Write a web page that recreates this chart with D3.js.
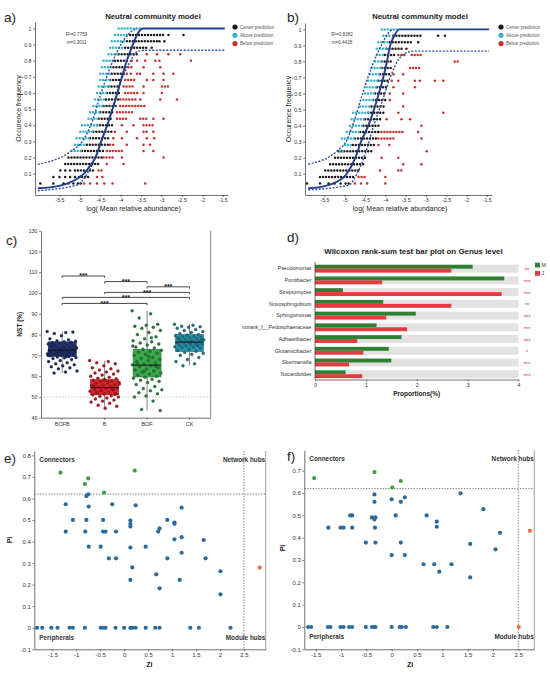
<!DOCTYPE html>
<html>
<head>
<meta charset="utf-8">
<script src="https://cdn.jsdelivr.net/npm/d3@7"></script>
<style>
  body { margin: 0; background: #fff; }
  svg { display: block; font-family: "Liberation Sans", Arial, sans-serif; }
</style>
</head>
<body>
<svg id="chart"></svg>
<script>
// === DATA: neutral community model (a, b) ===
// rows of dots: [occurrence frequency, log abundance from, log abundance to]

const A_ABOVE = [
    [1.00, -4.05, -3.52], [0.96, -4.14, -3.81], [0.92, -4.22, -3.89], [0.88, -4.26, -3.93],
    [0.84, -4.30, -4.05], [0.80, -4.42, -4.14], [0.76, -4.46, -4.18], [0.72, -4.50, -4.22],
    [0.68, -4.50, -4.26], [0.64, -4.54, -4.30], [0.60, -4.58, -4.34], [0.56, -4.63, -4.36],
    [0.52, -4.67, -4.42], [0.48, -4.75, -4.50], [0.44, -4.79, -4.54], [0.40, -4.95, -4.58],
    [0.36, -4.99, -4.67], [0.32, -5.08, -4.75], [0.28, -5.12, -4.83], [0.24, -5.20, -4.95]
];
const A_CENTER = [
    [0.96, -3.77, -2.95], [0.96, -2.83, -2.83], [0.96, -2.46, -2.46],
    [0.92, -3.85, -3.11], [0.92, -3.05, -3.05], [0.92, -2.93, -2.93],
    [0.88, -3.89, -3.36], [0.88, -3.24, -3.24],
    [0.84, -4.05, -3.60], [0.80, -4.14, -3.81], [0.76, -4.18, -3.87], [0.72, -4.22, -3.89],
    [0.68, -4.26, -3.97], [0.64, -4.30, -4.01], [0.60, -4.34, -4.01], [0.56, -4.36, -4.05],
    [0.52, -4.42, -4.09], [0.48, -4.50, -4.14], [0.44, -4.54, -4.18], [0.40, -4.58, -4.18],
    [0.36, -4.67, -4.22], [0.32, -4.75, -4.26], [0.28, -4.83, -4.30], [0.24, -4.95, -4.38],
    [0.20, -5.28, -4.46], [0.16, -5.36, -4.50],
    [0.12, -5.48, -5.48], [0.12, -5.36, -5.36], [0.12, -5.24, -5.24], [0.12, -5.12, -4.62],
    [0.08, -5.65, -5.65], [0.08, -5.50, -5.50], [0.08, -5.36, -5.36], [0.08, -5.24, -5.24],
    [0.08, -5.12, -5.12], [0.08, -5.02, -4.77],
    [0.04, -5.97, -5.97], [0.04, -5.65, -5.65], [0.04, -5.40, -5.40], [0.04, -5.28, -5.28],
    [0.04, -5.16, -5.16], [0.04, -5.05, -4.97]
];
const A_BELOW = [
    [0.84, -3.36, -3.36], [0.84, -3.11, -3.11], [0.84, -2.83, -2.83], [0.84, -2.54, -2.54],
    [0.80, -3.73, -3.73], [0.80, -3.60, -3.60], [0.80, -3.40, -3.40], [0.80, -3.15, -3.15],
    [0.80, -3.05, -3.05], [0.80, -2.28, -2.28],
    [0.76, -3.81, -3.73], [0.76, -3.44, -3.44], [0.76, -3.03, -3.03],
    [0.72, -3.85, -3.85], [0.72, -3.75, -3.75], [0.72, -3.60, -3.52], [0.72, -3.20, -3.20],
    [0.72, -2.95, -2.95], [0.72, -2.71, -2.71],
    [0.68, -3.89, -3.60], [0.68, -3.36, -3.36], [0.68, -3.20, -3.20], [0.68, -2.95, -2.95],
    [0.64, -3.93, -3.69], [0.64, -3.44, -3.44], [0.64, -2.99, -2.79],
    [0.60, -3.89, -3.56], [0.60, -3.44, -3.44], [0.60, -2.99, -2.99],
    [0.56, -4.01, -3.60], [0.56, -3.52, -3.52], [0.56, -3.03, -3.03], [0.56, -2.62, -2.62],
    [0.52, -4.01, -3.36],
    [0.48, -4.09, -3.69],
    [0.44, -4.09, -3.85], [0.44, -3.52, -3.36], [0.44, -3.20, -3.20], [0.44, -2.95, -2.95],
    [0.40, -3.97, -3.97], [0.40, -3.69, -3.69], [0.40, -3.44, -3.20],
    [0.36, -4.14, -4.14], [0.36, -3.85, -3.85], [0.36, -3.44, -3.36], [0.36, -3.20, -3.20],
    [0.32, -4.18, -4.18], [0.32, -3.97, -3.97], [0.32, -3.60, -3.60], [0.32, -3.36, -3.36],
    [0.32, -3.18, -3.18],
    [0.28, -4.26, -4.14], [0.28, -3.85, -3.85], [0.28, -3.44, -3.44], [0.28, -3.28, -3.28],
    [0.24, -4.34, -3.93], [0.24, -3.44, -3.44], [0.24, -3.20, -3.20],
    [0.20, -4.42, -4.14], [0.20, -3.97, -3.97], [0.20, -2.95, -2.95],
    [0.16, -4.34, -4.34], [0.16, -3.93, -3.93],
    [0.12, -4.54, -4.46],
    [0.08, -4.58, -4.58], [0.08, -4.45, -4.45],
    [0.04, -4.90, -4.90], [0.04, -4.75, -4.75], [0.04, -4.58, -4.58], [0.04, -4.40, -4.40],
    [0.04, -4.20, -4.20], [0.04, -3.40, -3.40]
];
// fitted curve and its confidence bounds: [log abundance, frequency]
const A_FIT = [[-6.03, 0.01], [-5.6, 0.02], [-5.3, 0.04], [-5.0, 0.08], [-4.9, 0.1], [-4.75, 0.15],
    [-4.62, 0.2], [-4.48, 0.3], [-4.33, 0.4], [-4.2, 0.5], [-4.08, 0.6], [-3.97, 0.7], [-3.85, 0.8],
    [-3.7, 0.9], [-3.58, 0.97], [-3.45, 1.0], [-1.45, 1.0]];
const A_UPPER = [[-6.03, 0.158], [-5.24, 0.236], [-4.91, 0.31], [-4.69, 0.43], [-4.48, 0.6],
    [-4.24, 0.77], [-3.97, 0.91], [-3.69, 0.99], [-3.6, 1.0]];
const A_LOWER = [[-6.03, -0.005], [-5.07, 0.03], [-4.87, 0.08], [-4.62, 0.2], [-4.4, 0.35],
    [-4.2, 0.51], [-4.0, 0.67], [-3.8, 0.78], [-3.57, 0.86], [-3.4, 0.865], [-1.45, 0.865]];
const A_STATS = ['R²=0.7759', 'm=0.3011'];

const B_ABOVE = [
    [1.00, -4.09, -3.72], [0.96, -4.05, -3.84], [0.92, -4.17, -3.89], [0.88, -4.21, -3.97],
    [0.84, -4.21, -4.01], [0.80, -4.25, -4.09], [0.76, -4.34, -4.09], [0.72, -4.38, -4.13],
    [0.68, -4.42, -4.17], [0.64, -4.46, -4.21], [0.60, -4.50, -4.25], [0.56, -4.54, -4.30],
    [0.52, -4.62, -4.34], [0.48, -4.79, -4.42], [0.44, -4.83, -4.50], [0.40, -4.87, -4.54],
    [0.36, -4.95, -4.62], [0.32, -5.07, -4.75], [0.28, -5.00, -4.80], [0.24, -5.12, -5.03]
];
const B_CENTER = [
    [0.96, -3.80, -3.11], [0.96, -2.70, -2.70], [0.96, -2.53, -2.53],
    [0.92, -3.89, -3.35], [0.92, -3.19, -3.19],
    [0.88, -3.97, -3.60], [0.88, -3.48, -3.43],
    [0.84, -4.01, -3.72], [0.80, -4.09, -3.80], [0.76, -4.09, -3.84], [0.72, -4.13, -3.89],
    [0.68, -4.17, -3.89], [0.64, -4.21, -3.93], [0.60, -4.25, -3.97], [0.56, -4.30, -3.97],
    [0.52, -4.34, -4.01], [0.48, -4.42, -4.05], [0.44, -4.50, -4.09], [0.40, -4.54, -4.13],
    [0.36, -4.62, -4.17], [0.32, -4.75, -4.21], [0.28, -4.80, -4.25], [0.24, -5.16, -4.30],
    [0.20, -5.24, -4.46], [0.16, -5.36, -4.50], [0.12, -5.48, -4.62], [0.08, -5.61, -4.75],
    [0.04, -5.93, -5.93], [0.04, -5.61, -5.61], [0.04, -5.40, -5.40], [0.04, -5.25, -5.25],
    [0.04, -5.10, -5.10], [0.04, -4.98, -4.85]
];
const B_BELOW = [
    [0.84, -3.68, -3.52], [0.84, -3.35, -3.11],
    [0.80, -2.29, -2.16],
    [0.76, -3.39, -3.15],
    [0.72, -3.80, -3.80], [0.72, -3.56, -3.56],
    [0.68, -3.84, -3.84], [0.68, -3.68, -3.68], [0.68, -3.27, -3.27], [0.68, -3.15, -3.15],
    [0.68, -2.78, -2.78], [0.68, -2.57, -2.57],
    [0.64, -3.80, -3.80], [0.64, -3.27, -3.23],
    [0.60, -3.89, -3.89], [0.60, -3.56, -3.56],
    [0.56, -3.89, -3.89],
    [0.52, -3.56, -3.56],
    [0.48, -3.68, -3.68], [0.48, -2.57, -2.57],
    [0.44, -3.97, -3.97], [0.44, -3.60, -3.60], [0.44, -3.39, -3.39],
    [0.40, -3.11, -3.11],
    [0.36, -4.17, -3.52], [0.36, -3.19, -3.19],
    [0.32, -4.17, -3.76], [0.32, -3.11, -3.11],
    [0.28, -4.17, -4.17], [0.28, -3.90, -3.90],
    [0.24, -2.98, -2.98],
    [0.20, -4.09, -4.09], [0.20, -3.68, -3.68],
    [0.16, -3.56, -3.56], [0.16, -3.11, -3.11],
    [0.12, -4.13, -4.09], [0.12, -3.68, -3.60],
    [0.08, -4.66, -4.50], [0.08, -4.00, -4.00],
    [0.04, -4.75, -4.75], [0.04, -4.60, -4.60], [0.04, -4.45, -4.45], [0.04, -4.00, -4.00]
];
const B_FIT = [[-5.9, 0.01], [-5.55, 0.02], [-5.28, 0.04], [-4.95, 0.1], [-4.74, 0.2], [-4.6, 0.3],
    [-4.42, 0.4], [-4.28, 0.5], [-4.16, 0.6], [-4.05, 0.7], [-3.96, 0.8], [-3.88, 0.9],
    [-3.78, 0.96], [-3.65, 1.0], [-1.44, 1.0]];
const B_UPPER = [[-5.9, 0.16], [-5.2, 0.24], [-4.95, 0.31], [-4.74, 0.45], [-4.56, 0.6],
    [-4.33, 0.77], [-4.08, 0.91], [-3.88, 0.99], [-3.8, 1.0]];
const B_LOWER = [[-5.9, 0.0], [-4.9, 0.03], [-4.7, 0.1], [-4.5, 0.22], [-4.3, 0.39], [-4.08, 0.55],
    [-3.88, 0.7], [-3.68, 0.81], [-3.43, 0.86], [-3.3, 0.865], [-1.44, 0.865]];
const B_STATS = ['R²=0.8382', 'm=0.4428'];

const NCM_LEGEND = ['Center prediction', 'Above prediction', 'Below prediction'];
const NCM_COLORS = ['#1b1b1b', '#35b3c9', '#c2302b'];
const NCM_X_TICKS = [-5.5, -5, -4.5, -4, -3.5, -3, -2.5, -2, -1.5];
const NCM_Y_TICKS = [0.1, 0.2, 0.3, 0.4, 0.5, 0.6, 0.7, 0.8, 0.9, 1];

// === DATA: NST (c) ===

const NST_GROUPS = ['BOFB', 'B', 'BOF', 'CK'];
const NST_BOFB = [81.5, 81, 80.5, 81.2, 79.5, 78, 77.5, 77, 76.8, 76.5, 76.2, 76, 75.8, 75.5, 75.3,
    75, 74.8, 74.5, 74.3, 74, 73.8, 73.5, 73.3, 73, 72.8, 72.6, 72.4, 72.2, 72, 71.8, 71.6, 71.4,
    71.2, 71, 70.8, 70.6, 70.4, 70.2, 70, 69.8, 69.5, 69.2, 69, 68.8, 68.5, 68, 67.5, 67, 66.5,
    66, 65.5, 65, 64.5, 64, 63.5, 62.5, 62, 61.5, 73.1, 72.7, 71.9, 71.3, 70.7, 74.2, 73.7, 75.1,
    76.3, 72.1, 70.1, 69.4];
const NST_B = [67.5, 67, 66.5, 66, 65, 64, 63.5, 63, 62.5, 62, 61.5, 61, 60.5, 60, 59.5, 59, 58.7,
    58.4, 58, 57.7, 57.4, 57, 56.7, 56.4, 56, 55.7, 55.4, 55, 54.7, 54.4, 54, 53.7, 53.4, 53, 52.7,
    52.4, 52, 51.7, 51.4, 51, 50.6, 50.3, 50, 49.5, 49, 48.5, 48, 47.5, 47, 46, 45.5, 44.5, 55.2,
    54.2, 53.2, 56.2, 57.2, 52.2, 51.2, 58.2];
const NST_BOF = [91.5, 90, 88, 85, 84.5, 84, 83.5, 83, 82, 81, 80, 79, 78, 77, 76.5, 76, 75.5, 75,
    74, 73.5, 73, 72.5, 72, 71.5, 71, 70.5, 70, 69, 68.5, 68, 67.5, 67, 66.5, 66, 65.5, 65, 64.5,
    64, 63.5, 63, 62.5, 62, 61.5, 61, 60.5, 60, 59.5, 59, 58.5, 58, 57.5, 57, 56, 55, 54, 53.5, 53,
    52, 51.5, 50.5, 50, 48, 44, 43.5, 69.5, 66.2, 64.8, 62.2, 74.5, 78.5];
const NST_CK = [85, 84.5, 84, 83.8, 83.5, 83, 82.5, 82, 81.5, 81, 80.5, 80, 79.8, 79.5, 79.2, 79,
    78.8, 78.5, 78.2, 78, 77.8, 77.5, 77.2, 77, 76.8, 76.5, 76.2, 76, 75.8, 75.5, 75.2, 75, 74.8,
    74.5, 74.2, 74, 73.8, 73.5, 73, 72.5, 72, 71.5, 71, 70.5, 70, 69, 68, 67, 66, 65, 77.3, 76.3,
    78.3, 75.3];
// [whisker low, q1, median, q3, whisker high]
const NST_BOX = [[61.5, 69.5, 72.5, 76.5, 81.5], [44.5, 51, 54.5, 58.3, 67.5],
    [43.5, 59.6, 65.3, 72.9, 91.5], [65.2, 71.8, 76.4, 80, 85]];
const NST_SIG = [['BOFB', 'B', 108.2], ['B', 'BOF', 105.5], ['BOF', 'CK', 103],
    ['B', 'CK', 100.3], ['BOFB', 'CK', 97.9], ['BOFB', 'BOF', 95]];
const NST_TICKS = [40, 50, 60, 70, 80, 90, 100, 110, 120, 130];
const NST_FILL = ['#25397c', '#e3262a', '#3aab4a', '#2a9bb2'];
const NST_DOT = ['#1b2a62', '#b3151d', '#2a7a38', '#1a7389'];

// === DATA: Wilcoxon rank-sum (d) ===

const GENERA = ['Pseudomonas', 'Pontibacter', 'Streptomyces', 'Novosphingobium', 'Sphingomonas',
    'norank_f__Pedosphaeraceae', 'Adhaeribacter', 'Glutamicibacter', 'Skermanella', 'Nocardioides'];
const PROP_M = [3.10, 3.72, 0.55, 1.34, 1.98, 1.21, 1.70, 1.45, 1.50, 0.60];
const PROP_J = [2.68, 1.32, 3.67, 2.68, 1.40, 1.81, 0.83, 0.95, 0.67, 0.93];
const GENUS_SIG = ['**', '***', '***', '**', '***', '***', '***', '*', '***', '***'];
const PROP_TICKS = [0, 1, 2, 3, 4];
const GROUP_NAMES = ['M', 'J'];

// === DATA: Zi-Pi (e, f) ===

const E_PERIPH = [[-1.22, 0.573], [-0.75, 0.619], [-0.79, 0.611], [-0.74, 0.562], [-0.25, 0.573],
    [0.24, 0.568], [1.2, 0.557], [-1.07, 0.5], [-0.79, 0.5], [-0.44, 0.5], [0.13, 0.497],
    [0.13, 0.482], [0.13, 0.47], [0.9, 0.5], [1.05, 0.488], [1.05, 0.482], [0.74, 0.461],
    [0.71, 0.446], [-1.22, 0.446], [-0.81, 0.446], [-0.44, 0.446], [-0.39, 0.446], [-0.17, 0.446],
    [1.2, 0.42], [1.05, 0.41], [1.66, 0.407], [-0.74, 0.376], [-0.49, 0.376], [0.13, 0.372],
    [0.45, 0.376], [1.2, 0.348], [-0.32, 0.322], [-0.17, 0.322], [0.9, 0.322], [1.7, 0.322],
    [0.17, 0.28], [2.01, 0.262], [0.67, 0.248], [0.13, 0.222], [1.16, 0.222], [0.74, 0.183],
    [2.01, 0.155],
    [-1.82, 0], [-1.71, 0], [-1.52, 0], [-1.39, 0], [-1.14, 0], [-1.07, 0], [-0.82, 0], [-0.49, 0],
    [-0.44, 0], [-0.39, 0], [-0.18, 0], [0, 0], [0.13, 0], [0.17, 0], [0.24, 0], [0.45, 0],
    [0.65, 0], [0.74, 0], [1.38, 0], [1.56, 0], [2.22, 0]];
const E_CONNECT = [[-1.33, 0.72], [-0.75, 0.693], [-0.82, 0.667], [-0.42, 0.627], [0.22, 0.729]];
const E_HUBS = [[2.83, 0.279]];

const F_PERIPH = [[-0.34, 0.594], [-0.34, 0.561], [0, 0.572], [0.18, 0.561], [0.26, 0.581],
    [1.36, 0.599], [1.81, 0.528], [-0.82, 0.5], [-0.78, 0.5], [0.08, 0.5], [0.69, 0.5],
    [-0.39, 0.491], [-0.34, 0.482], [-0.32, 0.491], [0.89, 0.472], [0.89, 0.449], [-1.25, 0.445],
    [-1.01, 0.445], [-0.95, 0.445], [-0.78, 0.445], [-0.33, 0.445], [2.14, 0.422], [-0.51, 0.378],
    [-0.32, 0.378], [0.18, 0.378], [1.55, 0.372], [2.05, 0.348], [0, 0.322], [0.26, 0.322],
    [0.63, 0.281], [0.84, 0.281], [1.18, 0.281], [0.94, 0.248], [1.55, 0.222],
    [-1.65, 0], [-1.59, 0], [-1.26, 0], [-1.21, 0], [-1.01, 0], [-0.95, 0], [-0.84, 0], [-0.78, 0],
    [-0.51, 0], [-0.39, 0], [-0.34, 0], [-0.32, 0], [0, 0], [0.16, 0], [0.2, 0], [0.28, 0],
    [0.82, 0], [0.89, 0], [1.1, 0]];
const F_CONNECT = [[-1.53, 0.667], [-0.34, 0.694], [0.01, 0.625], [0.18, 0.654]];
const F_HUBS = [[2.73, 0.431], [2.51, 0]];

const ZI_TICKS = [-1.5, -1, -0.5, 0, 0.5, 1, 1.5, 2, 2.5];
const PI_TICKS_E = [-0.1, 0, 0.1, 0.2, 0.3, 0.4, 0.5, 0.6, 0.7, 0.8];
const PI_TICKS_F = [-0.1, 0, 0.1, 0.2, 0.3, 0.4, 0.5, 0.6, 0.7];
const ZI_CUT = 2.5;
const PI_CUT = 0.62;
const ROLE_COLORS = ['#2c6a9e', '#3f9c3f', '#ef6a3a'];

// === SETUP ===

const W = 550, H = 680;
const svg = d3.select('#chart').attr('width', W).attr('height', H).attr('viewBox', `0 0 ${W} ${H}`);

function styleAxis(g, size) {
    g.selectAll('path.domain').attr('stroke', '#333').attr('stroke-width', 0.7);
    g.selectAll('.tick line').attr('stroke', '#333').attr('stroke-width', 0.6);
    g.selectAll('.tick text').attr('font-size', size).attr('fill', '#333');
}

function panelLabel(text, x, y) {
    svg.append('text').attr('x', x).attr('y', y)
        .attr('font-size', 13.5).attr('fill', '#222').text(text);
}

// === PANELS a, b: NEUTRAL COMMUNITY MODEL ===

function drawNeutral(o) {
    const x = d3.scaleLinear().domain(o.xDomain).range([o.left, o.right]);
    const y = d3.scaleLinear().domain([-0.032, 1.04]).range([o.bottom, o.top]);
    const g = svg.append('g');

    g.append('g').attr('transform', `translate(0,${o.bottom})`)
        .call(d3.axisBottom(x).tickValues(NCM_X_TICKS).tickSize(2).tickSizeOuter(0)
            .tickPadding(1.5).tickFormat(d => d))
        .call(a => styleAxis(a, 5.3));
    g.append('g').attr('transform', `translate(${o.left},0)`)
        .call(d3.axisLeft(y).tickValues(NCM_Y_TICKS).tickSize(2).tickSizeOuter(0)
            .tickPadding(1.5).tickFormat(d => d))
        .call(a => styleAxis(a, 5.3));

    // dot rows, drawn as dotted strokes (a one-point row gives one dot)
    [[o.below, NCM_COLORS[2]], [o.center, NCM_COLORS[0]], [o.above, NCM_COLORS[1]]]
        .forEach(([rows, color]) => {
            g.append('g').selectAll('line').data(rows).join('line')
                .attr('x1', d => x(d[1]))
                .attr('x2', d => x(d[2]) + 0.01)
                .attr('y1', d => y(d[0]))
                .attr('y2', d => y(d[0]))
                .attr('stroke', color)
                .attr('stroke-width', 2.5)
                .attr('stroke-linecap', 'round')
                .attr('stroke-dasharray', '0 3');
        });

    const line = d3.line().x(d => x(d[0])).y(d => y(d[1])).curve(d3.curveMonotoneX);
    [o.upper, o.lower].forEach(pts => {
        g.append('path').datum(pts).attr('d', line)
            .attr('fill', 'none').attr('stroke', '#2f4f9f')
            .attr('stroke-width', 1.4).attr('stroke-dasharray', '2 1.5');
    });
    g.append('path').datum(o.fit).attr('d', line)
        .attr('fill', 'none').attr('stroke', '#233d8a').attr('stroke-width', 1.9);

    // title and fit statistics
    g.append('text').attr('x', o.titleX).attr('y', 18.5).attr('text-anchor', 'middle')
        .attr('font-size', 7.8).attr('font-weight', 'bold').attr('fill', '#222')
        .text('Neutral community model');
    o.stats.forEach((s, i) => {
        g.append('text').attr('x', o.statsX).attr('y', 36 + i * 8.3).attr('text-anchor', 'middle')
            .attr('font-size', 4.6).attr('fill', '#444').text(s);
    });

    // legend
    const lg = g.append('g').selectAll('g').data(NCM_LEGEND).join('g')
        .attr('transform', (d, i) => `translate(${o.legendX},${27 + i * 8.3})`);
    lg.append('circle').attr('r', 2.6).attr('fill', (d, i) => NCM_COLORS[i]);
    lg.append('text').attr('x', 5).attr('y', 1.6).attr('font-size', 4.5).attr('fill', '#555')
        .text(d => d);

    // axis titles
    g.append('text')
        .attr('transform', `translate(${o.left - 14.5},${(o.top + o.bottom) / 2}) rotate(-90)`)
        .attr('text-anchor', 'middle').attr('font-size', 7).attr('fill', '#222')
        .text('Occurence frequency');
    g.append('text').attr('x', o.xLabelX).attr('y', 210.5).attr('text-anchor', 'middle')
        .attr('font-size', 7).attr('fill', '#222').text('log( Mean relative abundance)');
}

// === PANEL c: NST BOX PLOT ===

function drawNST() {
    const left = 41, right = 210.7, top = 230.7, bottom = 417.7;
    const x = d3.scaleBand().domain(NST_GROUPS).range([left, right]);
    const y = d3.scaleLinear().domain([40, 130]).range([bottom, top]);
    const values = [NST_BOFB, NST_B, NST_BOF, NST_CK];
    const boxW = 28;
    const g = svg.append('g');

    g.append('g').attr('transform', `translate(0,${bottom})`)
        .call(d3.axisBottom(x).tickSize(2).tickSizeOuter(0).tickPadding(2))
        .call(a => styleAxis(a, 5.5));
    g.append('g').attr('transform', `translate(${left},0)`)
        .call(d3.axisLeft(y).tickValues(NST_TICKS).tickSize(2).tickSizeOuter(0).tickPadding(1.5))
        .call(a => styleAxis(a, 5.3));
    g.append('line').attr('x1', right).attr('x2', right).attr('y1', top).attr('y2', bottom)
        .attr('stroke', '#555').attr('stroke-width', 0.7);

    // reference line at 50 %
    g.append('line').attr('x1', left).attr('x2', right).attr('y1', y(50)).attr('y2', y(50))
        .attr('stroke', '#999').attr('stroke-width', 0.6).attr('stroke-dasharray', '1.5 1.5');

    NST_GROUPS.forEach((grp, gi) => {
        const cx = x(grp) + x.bandwidth() / 2;
        const [lo, q1, med, q3, hi] = NST_BOX[gi];
        g.append('line').attr('x1', cx).attr('x2', cx).attr('y1', y(lo)).attr('y2', y(hi))
            .attr('stroke', '#666').attr('stroke-width', 0.8);
        g.append('rect').attr('x', cx - boxW / 2).attr('width', boxW)
            .attr('y', y(q3)).attr('height', y(q1) - y(q3))
            .attr('fill', NST_FILL[gi]).attr('stroke', NST_DOT[gi]).attr('stroke-width', 0.6);
        // jitter spread across the box width
        g.append('g').selectAll('circle').data(values[gi]).join('circle')
            .attr('cx', (d, i) => cx + (((i * 0.618034) % 1) - 0.5) * (boxW + 2))
            .attr('cy', d => y(d))
            .attr('r', 1.5)
            .attr('fill', NST_DOT[gi])
            .attr('stroke', '#222').attr('stroke-width', 0.25);
        g.append('line').attr('x1', cx - boxW / 2).attr('x2', cx + boxW / 2)
            .attr('y1', y(med)).attr('y2', y(med)).attr('stroke', '#111').attr('stroke-width', 1);
    });

    // significance brackets
    NST_SIG.forEach(([a, b, v]) => {
        const xa = x(a) + x.bandwidth() / 2, xb = x(b) + x.bandwidth() / 2, yy = y(v);
        g.append('path').attr('d', `M${xa},${yy + 1.8}V${yy}H${xb}V${yy + 1.8}`)
            .attr('fill', 'none').attr('stroke', '#333').attr('stroke-width', 0.9);
        g.append('text').attr('x', (xa + xb) / 2).attr('y', yy + 2.4).attr('text-anchor', 'middle')
            .attr('font-size', 7).attr('font-weight', 'bold').attr('fill', '#222').text('***');
    });

    g.append('text').attr('transform', `translate(21.7,${(top + bottom) / 2}) rotate(-90)`)
        .attr('text-anchor', 'middle').attr('font-size', 6.5).attr('font-weight', 'bold')
        .attr('fill', '#222').text('NST  (%)');
}

// === PANEL d: WILCOXON BAR PLOT ===

function drawWilcoxon() {
    const left = 315, right = 518.5, axisY = 379.5;
    const x = d3.scaleLinear().domain([0, 4]).range([left, right]);
    const y = d3.scaleBand().domain(GENERA).range([262.8, 380.1]);
    const rowH = 8, barH = 3.9;
    const g = svg.append('g');

    g.append('text').attr('x', 413.5).attr('y', 254).attr('text-anchor', 'middle')
        .attr('font-size', 7.9).attr('font-weight', 'bold').attr('fill', '#222')
        .text('Wilcoxon rank-sum test bar plot on Genus level');

    const rows = g.selectAll('g.row').data(GENERA).join('g')
        .attr('class', 'row')
        .attr('transform', d => `translate(0,${y(d) + y.bandwidth() / 2})`);
    rows.append('rect').attr('x', x(0)).attr('width', x(4) - x(0))
        .attr('y', -rowH / 2).attr('height', rowH).attr('fill', '#e2e2e2');
    rows.append('rect').attr('x', x(0)).attr('width', (d, i) => x(PROP_M[i]) - x(0))
        .attr('y', -barH).attr('height', barH).attr('fill', '#2f7f35');
    rows.append('rect').attr('x', x(0)).attr('width', (d, i) => x(PROP_J[i]) - x(0))
        .attr('y', 0).attr('height', barH).attr('fill', '#e23b40');
    rows.append('text').attr('x', left - 3.5).attr('y', 1.8).attr('text-anchor', 'end')
        .attr('font-size', 5.3).attr('fill', '#333').text(d => d);
    rows.append('text').attr('x', 527).attr('y', 3.6).attr('text-anchor', 'middle')
        .attr('font-size', 6).attr('fill', '#e0343a').text((d, i) => GENUS_SIG[i]);

    g.append('g').attr('transform', `translate(0,${axisY})`)
        .call(d3.axisBottom(x).tickValues(PROP_TICKS).tickSize(2).tickSizeOuter(0)
            .tickPadding(1.5).tickFormat(d => d))
        .call(a => styleAxis(a, 5.3));
    g.append('line').attr('x1', left).attr('x2', left).attr('y1', 262).attr('y2', axisY)
        .attr('stroke', '#333').attr('stroke-width', 0.7);
    g.append('text').attr('x', 416.7).attr('y', 396).attr('text-anchor', 'middle')
        .attr('font-size', 6.5).attr('font-weight', 'bold').attr('fill', '#222')
        .text('Proportions(%)');

    const lg = g.selectAll('g.leg').data(GROUP_NAMES).join('g').attr('class', 'leg')
        .attr('transform', (d, i) => `translate(535,${262.7 + i * 8.3})`);
    lg.append('rect').attr('width', 5).attr('height', 4.8)
        .attr('fill', (d, i) => i === 0 ? '#2f7f35' : '#e23b40');
    lg.append('text').attr('x', 6.5).attr('y', 4.3).attr('font-size', 5.3).attr('fill', '#333')
        .text(d => d);
}

// === PANELS e, f: ZI-PI SCATTER ===

function drawZiPi(o) {
    const x = d3.scaleLinear().domain(o.xDomain).range([o.left, o.right]);
    const y = d3.scaleLinear().domain(o.yDomain).range([o.bottom, o.top]);
    const g = svg.append('g');

    g.append('g').attr('transform', `translate(0,${o.bottom})`)
        .call(d3.axisBottom(x).tickValues(ZI_TICKS).tickSize(2).tickSizeOuter(0)
            .tickPadding(1.5).tickFormat(d => d))
        .call(a => styleAxis(a, 6));
    g.append('g').attr('transform', `translate(${o.left},0)`)
        .call(d3.axisLeft(y).tickValues(o.piTicks).tickSize(2).tickSizeOuter(0)
            .tickPadding(1.5).tickFormat(d => d))
        .call(a => styleAxis(a, 6));
    g.append('line').attr('x1', o.right).attr('x2', o.right).attr('y1', o.top).attr('y2', o.bottom)
        .attr('stroke', '#777').attr('stroke-width', 0.7);

    // role thresholds
    g.append('line').attr('x1', o.left).attr('x2', o.right).attr('y1', y(PI_CUT)).attr('y2', y(PI_CUT))
        .attr('stroke', '#444').attr('stroke-width', 0.7).attr('stroke-dasharray', '1.4 1.4');
    g.append('line').attr('x1', x(ZI_CUT)).attr('x2', x(ZI_CUT)).attr('y1', o.top).attr('y2', o.bottom)
        .attr('stroke', '#444').attr('stroke-width', 0.7).attr('stroke-dasharray', '1.4 1.4');

    [o.periph, o.connect, o.hubs].forEach((pts, k) => {
        g.append('g').selectAll('circle').data(pts).join('circle')
            .attr('cx', d => x(d[0])).attr('cy', d => y(d[1])).attr('r', 2.1)
            .attr('fill', ROLE_COLORS[k]);
    });

    const lab = (t, xx, yy, anchor) => g.append('text').attr('x', xx).attr('y', yy)
        .attr('text-anchor', anchor).attr('font-size', 6.4).attr('font-weight', 'bold')
        .attr('fill', '#333').text(t);
    lab('Connectors', o.left + 5, o.top + 10.5, 'start');
    lab('Network hubs', o.right - 0.5, o.top + 10.5, 'end');
    lab('Peripherals', o.left + 5, y(0) + 12.5, 'start');
    lab('Module hubs', o.right - 0.5, y(0) + 12.5, 'end');

    g.append('text').attr('x', o.ziX).attr('y', 666.5).attr('text-anchor', 'middle')
        .attr('font-size', 7).attr('font-weight', 'bold').attr('fill', '#222').text('Zi');
    g.append('text').attr('transform', `translate(${o.piX},${o.piY}) rotate(-90)`)
        .attr('text-anchor', 'middle').attr('font-size', 7).attr('font-weight', 'bold')
        .attr('fill', '#222').text('Pi');
}

// === RENDER ===

drawNeutral({
    left: 35, right: 228, top: 22, bottom: 195, xDomain: [-6.1, -1.37],
    above: A_ABOVE, center: A_CENTER, below: A_BELOW,
    fit: A_FIT, upper: A_UPPER, lower: A_LOWER, stats: A_STATS,
    titleX: 153, statsX: 76.5, legendX: 235, xLabelX: 133.5
});
drawNeutral({
    left: 305, right: 492, top: 23, bottom: 195, xDomain: [-5.98, -1.37],
    above: B_ABOVE, center: B_CENTER, below: B_BELOW,
    fit: B_FIT, upper: B_UPPER, lower: B_LOWER, stats: B_STATS,
    titleX: 420, statsX: 342, legendX: 501, xLabelX: 400
});
drawNST();
drawWilcoxon();
drawZiPi({
    left: 34.3, right: 265.7, top: 451, bottom: 649.3, xDomain: [-1.876, 2.955],
    yDomain: [-0.1, 0.82], piTicks: PI_TICKS_E,
    periph: E_PERIPH, connect: E_CONNECT, hubs: E_HUBS,
    ziX: 149.3, piX: 12, piY: 540
});
drawZiPi({
    left: 304.3, right: 534.3, top: 450, bottom: 649.3, xDomain: [-1.725, 2.816],
    yDomain: [-0.1, 0.793], piTicks: PI_TICKS_F,
    periph: F_PERIPH, connect: F_CONNECT, hubs: F_HUBS,
    ziX: 410, piX: 285, piY: 548
});

panelLabel('a)', 4, 22);
panelLabel('b)', 287, 22);
panelLabel('c)', 6, 245);
panelLabel('d)', 287, 242);
panelLabel('e)', 4, 463);
panelLabel('f)', 287, 461);
</script>
</body>
</html>
